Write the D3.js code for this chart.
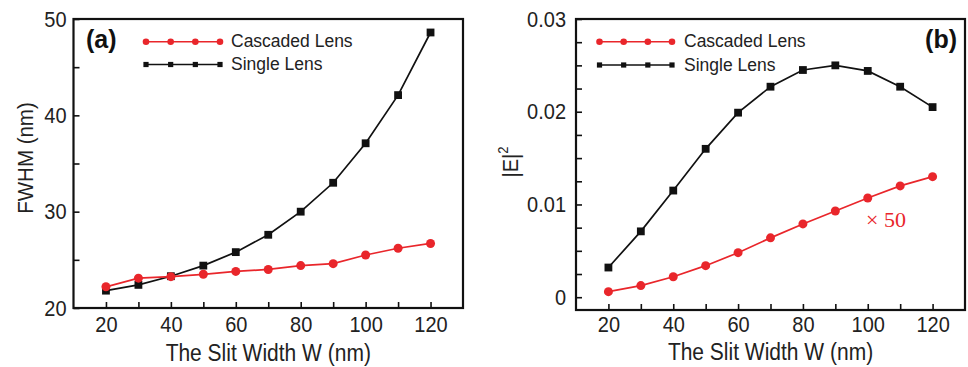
<!DOCTYPE html>
<html>
<head>
<meta charset="utf-8">
<script src="https://cdn.jsdelivr.net/npm/d3@7/dist/d3.min.js"></script>
<style>
  body { margin: 0; background: #fff; }
  text { font-family: Arial, "Liberation Sans", Helvetica, sans-serif; }
  text.serif { font-family: "Liberation Serif", "Times New Roman", serif; }
</style>
</head>
<body>
<svg id="chart" width="968" height="367"></svg>
<script>
// slit width (nm) on the x axis of both panels
var slitWidth = [20, 30, 40, 50, 60, 70, 80, 90, 100, 110, 120];
var xLabels = [20, 40, 60, 80, 100, 120];

// panel (a): FWHM (nm)
var fwhmCascaded = [22.2, 23.1, 23.25, 23.5, 23.8, 24.0, 24.4, 24.6, 25.5, 26.2, 26.7];
var fwhmSingle = [21.8, 22.4, 23.3, 24.4, 25.8, 27.6, 30.0, 33.0, 37.1, 42.1, 48.6];
var fwhmTicks = [20, 25, 30, 35, 40, 45, 50];
var fwhmLabels = [20, 30, 40, 50];

// panel (b): |E|^2 (cascaded values shown x 50)
var intensityCascaded = [0.0006, 0.00125, 0.0022, 0.0034, 0.0048, 0.0064, 0.0079, 0.0093, 0.0107, 0.0120, 0.0130];
var intensitySingle = [0.0032, 0.0071, 0.0115, 0.0160, 0.0199, 0.0227, 0.0245, 0.0250, 0.0244, 0.0227, 0.0205];
var intensityTicks = [0, 0.0025, 0.005, 0.0075, 0.01, 0.0125, 0.015, 0.0175, 0.02, 0.0225, 0.025, 0.0275, 0.03];
var intensityLabels = [0, 0.01, 0.02, 0.03];

var seriesNames = ['Cascaded Lens', 'Single Lens'];

var RED = '#e9262b';
var BLACK = '#111';
var STRETCH = 1.1;

var svg = d3.select('#chart');

function addText(parent, x, y, str, opts) {
    opts = opts || {};
    var tr = 'translate(' + x + ',' + y + ')';
    if (opts.rotate) tr += ' rotate(' + opts.rotate + ')';
    tr += ' scale(1,' + (opts.stretch || 1) + ')';
    return parent.append('text')
        .attr('transform', tr)
        .attr('text-anchor', opts.anchor || 'start')
        .attr('font-size', (opts.size || 20) + 'px')
        .attr('font-weight', opts.weight || 'normal')
        .attr('fill', opts.fill || '#222')
        .text(str);
}

function drawPanel(p) {
    var g = svg.append('g');
    var x = d3.scaleLinear().domain([10, 130]).range([p.left, p.right]);
    var y = d3.scaleLinear().domain(p.yDomain).range([p.bottom, p.top]);

    // axes, ticks pointing inward
    var xAxis = g.append('g')
        .attr('transform', 'translate(0,' + p.bottom + ')')
        .call(d3.axisBottom(x).tickValues(slitWidth).tickSize(-6).tickPadding(p.xPad)
            .tickFormat(function (d) { return xLabels.indexOf(d) >= 0 ? d : ''; }));
    var yAxis = g.append('g')
        .attr('transform', 'translate(' + p.left + ',0)')
        .call(d3.axisLeft(y).tickValues(p.yTicks).tickSize(-6).tickPadding(p.yPad)
            .tickFormat(function (d) { return p.yLabels.indexOf(d) >= 0 ? p.fmt(d) : ''; }));
    [xAxis, yAxis].forEach(function (a) {
        a.select('.domain').remove();
        a.selectAll('line').attr('stroke', BLACK).attr('stroke-width', 1.6);
        a.selectAll('text')
            .attr('font-size', '20px')
            .attr('fill', '#222')
            .attr('transform', 'scale(1,' + STRETCH + ')');
    });

    // frame
    g.append('rect')
        .attr('x', p.left).attr('y', p.top)
        .attr('width', p.right - p.left).attr('height', p.bottom - p.top)
        .attr('fill', 'none').attr('stroke', BLACK).attr('stroke-width', 2.2);

    var line = d3.line()
        .x(function (d) { return x(d[0]); })
        .y(function (d) { return y(d[1]); });

    var single = d3.zip(slitWidth, p.single);
    var cascaded = d3.zip(slitWidth, p.cascaded);

    g.append('path').datum(single)
        .attr('d', line).attr('fill', 'none')
        .attr('stroke', BLACK).attr('stroke-width', 1.7);
    g.selectAll('rect.sq').data(single).enter().append('rect')
        .attr('class', 'sq')
        .attr('x', function (d) { return x(d[0]) - 3.9; })
        .attr('y', function (d) { return y(d[1]) - 3.9; })
        .attr('width', 7.8).attr('height', 7.8)
        .attr('fill', BLACK);

    g.append('path').datum(cascaded)
        .attr('d', line).attr('fill', 'none')
        .attr('stroke', RED).attr('stroke-width', 1.7);
    g.selectAll('circle.dot').data(cascaded).enter().append('circle')
        .attr('class', 'dot')
        .attr('cx', function (d) { return x(d[0]); })
        .attr('cy', function (d) { return y(d[1]); })
        .attr('r', 4.5)
        .attr('fill', RED);

    // legend
    var lg = g.append('g');
    var step = (p.legX1 - p.legX0) / 3;
    [0, 1].forEach(function (i) {
        var ly = p.legY[i];
        var col = i === 0 ? RED : BLACK;
        lg.append('line')
            .attr('x1', p.legX0).attr('x2', p.legX1)
            .attr('y1', ly).attr('y2', ly)
            .attr('stroke', col).attr('stroke-width', 1.5);
        d3.range(4).forEach(function (k) {
            var mx = p.legX0 + k * step;
            if (i === 0) {
                lg.append('circle').attr('cx', mx).attr('cy', ly).attr('r', 3.3).attr('fill', col);
            } else {
                lg.append('rect').attr('x', mx - 2.6).attr('y', ly - 2.6)
                    .attr('width', 5.2).attr('height', 5.2).attr('fill', col);
            }
        });
        addText(lg, p.legText, ly + 5.5, seriesNames[i], { size: 17.5 });
    });

    // panel tag
    addText(g, p.tagX, 48, p.tag, { size: 25, weight: 'bold', anchor: p.tagAnchor, fill: '#111' });

    // axis titles
    addText(g, (p.left + p.right) / 2, p.titleY, 'The Slit Width W (nm)',
        { size: 21, anchor: 'middle', stretch: STRETCH });

    return { g: g, x: x, y: y };
}

var panelA = drawPanel({
    left: 73.5, right: 463, top: 19, bottom: 308,
    yDomain: [20, 50], yTicks: fwhmTicks, yLabels: fwhmLabels,
    fmt: function (d) { return d; },
    xPad: 8, yPad: 7,
    single: fwhmSingle, cascaded: fwhmCascaded,
    legX0: 146, legX1: 220, legText: 231, legY: [41.7, 64.5],
    tag: '(a)', tagX: 86, tagAnchor: 'start',
    titleY: 361
});
addText(panelA.g, 33, 158, 'FWHM (nm)', { size: 20.5, anchor: 'middle', rotate: -90, stretch: STRETCH });

var panelB = drawPanel({
    left: 576, right: 965, top: 19, bottom: 310,
    yDomain: [-0.00138, 0.03], yTicks: intensityTicks, yLabels: intensityLabels,
    fmt: function (d) { return d === 0 ? '0' : d.toFixed(2); },
    xPad: 6, yPad: 10,
    single: intensitySingle, cascaded: intensityCascaded,
    legX0: 599.5, legX1: 672, legText: 684, legY: [41.7, 65],
    tag: '(b)', tagX: 957, tagAnchor: 'end',
    titleY: 360
});

// |E|^2 title
var eTitle = panelB.g.append('text')
    .attr('transform', 'translate(518,162) rotate(-90) scale(1,' + STRETCH + ')')
    .attr('text-anchor', 'middle')
    .attr('font-size', '20px')
    .attr('fill', '#222');
eTitle.append('tspan').text('|E|');
eTitle.append('tspan').attr('font-size', '13px').attr('dy', '-9').text('2');

// x 50 note for the cascaded curve
panelB.g.append('text')
    .attr('class', 'serif')
    .attr('x', 866).attr('y', 227)
    .attr('font-size', '22px')
    .attr('fill', RED)
    .text('\u00d7 50');
</script>
</body>
</html>
